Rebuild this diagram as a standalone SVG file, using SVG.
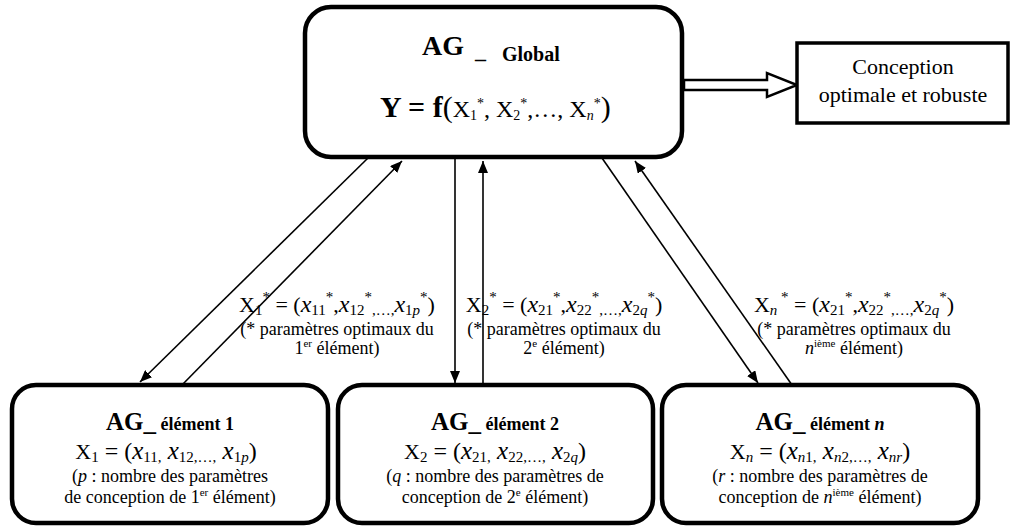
<svg xmlns="http://www.w3.org/2000/svg" width="1011" height="528" viewBox="0 0 1011 528" font-family="'Liberation Serif', 'DejaVu Serif', serif">
<style>
  text { font-family: 'Liberation Serif', 'DejaVu Serif', serif; fill: #000; }
  .box { fill: #fff; stroke: #000; stroke-width: 4.5; }
  .rect { fill: #fff; stroke: #000; stroke-width: 3.5; }
  .conn { stroke: #000; stroke-width: 1.6; fill: none; }
  .b { font-weight: bold; }
  .i { font-style: italic; }
  .xv { font-style: italic; font-size: 25px; }
  .xl { font-style: italic; font-size: 24px; }
</style>
<defs>
  <marker id="ah" viewBox="0 0 12 10" refX="12" refY="5" markerWidth="12" markerHeight="10" markerUnits="userSpaceOnUse" orient="auto">
    <path d="M0,0 L12,5 L0,10 z" fill="#000"/>
  </marker>
</defs>
<rect width="1011" height="528" fill="#fff"/>

<g id="connectors">
  <line class="conn" x1="368" y1="158" x2="140" y2="382" marker-end="url(#ah)"/>
  <line class="conn" x1="182" y1="385" x2="402" y2="161" marker-end="url(#ah)"/>
  <line class="conn" x1="455" y1="158" x2="455" y2="383" marker-end="url(#ah)"/>
  <line class="conn" x1="483" y1="385" x2="483" y2="161" marker-end="url(#ah)"/>
  <line class="conn" x1="602" y1="158" x2="758" y2="383" marker-end="url(#ah)"/>
  <line class="conn" x1="792" y1="385" x2="635" y2="161" marker-end="url(#ah)"/>
  <polygon points="684,80 767,80 767,73 797,85 767,97 767,90 684,90" fill="#fff" stroke="#000" stroke-width="2.5" stroke-linejoin="miter"/>
</g>

<g id="global">
  <rect class="box" x="305" y="7" width="377" height="150" rx="26"/>
  <text x="422" y="55" font-size="28" class="b">AG</text>
  <text x="475" y="58" font-size="22" class="b">_</text>
  <text x="502" y="61" font-size="20" class="b">Global</text>
  <text x="380" y="117" font-size="30"><tspan class="b">Y = f</tspan><tspan>(</tspan><tspan font-size="24">X</tspan><tspan font-size="14" dy="3">1</tspan><tspan font-size="14" dy="-12">*</tspan><tspan font-size="24" dy="9">, X</tspan><tspan font-size="14" dy="3">2</tspan><tspan font-size="14" dy="-12">*</tspan><tspan font-size="24" dy="9">,…, X</tspan><tspan font-size="14" dy="3" class="i">n</tspan><tspan font-size="14" dy="-12">*</tspan><tspan dy="9">)</tspan></text>
</g>

<g id="conception">
  <rect class="rect" x="797" y="43" width="211" height="80"/>
  <text x="903" y="74" font-size="22" text-anchor="middle">Conception</text>
  <text x="903" y="102" font-size="22" text-anchor="middle">optimale et robuste</text>
</g>

<g id="label1">
  <text x="337" y="312" font-size="22" text-anchor="middle">X<tspan font-size="15" dy="3">1</tspan><tspan font-size="15" dy="-13">*</tspan><tspan dy="10"> = (</tspan><tspan class="xl">x</tspan><tspan font-size="15" dy="3">11</tspan><tspan font-size="15" dy="-13">*</tspan><tspan dy="10">,</tspan><tspan class="xl">x</tspan><tspan font-size="15" dy="3">12</tspan><tspan font-size="15" dy="-13">*</tspan><tspan font-size="15" dy="13">,…,</tspan><tspan class="xl" dy="-3">x</tspan><tspan font-size="15" dy="3">1<tspan class="i">p</tspan></tspan><tspan font-size="15" dy="-13">*</tspan><tspan dy="10">)</tspan></text>
  <text x="337" y="335" font-size="18" text-anchor="middle">(* paramètres optimaux du</text>
  <text x="337" y="354" font-size="18" text-anchor="middle">1<tspan font-size="11" dy="-7">er</tspan><tspan dy="7"> élément)</tspan></text>
</g>

<g id="label2">
  <text x="564" y="312" font-size="22" text-anchor="middle">X<tspan font-size="15" dy="3">2</tspan><tspan font-size="15" dy="-13">*</tspan><tspan dy="10"> = (</tspan><tspan class="xl">x</tspan><tspan font-size="15" dy="3">21</tspan><tspan font-size="15" dy="-13">*</tspan><tspan dy="10">,</tspan><tspan class="xl">x</tspan><tspan font-size="15" dy="3">22</tspan><tspan font-size="15" dy="-13">*</tspan><tspan font-size="15" dy="13">,…,</tspan><tspan class="xl" dy="-3">x</tspan><tspan font-size="15" dy="3">2<tspan class="i">q</tspan></tspan><tspan font-size="15" dy="-13">*</tspan><tspan dy="10">)</tspan></text>
  <text x="564" y="335" font-size="18" text-anchor="middle">(* paramètres optimaux du</text>
  <text x="564" y="354" font-size="18" text-anchor="middle">2<tspan font-size="11" dy="-7">e</tspan><tspan dy="7"> élément)</tspan></text>
</g>

<g id="labeln">
  <text x="854" y="312" font-size="22" text-anchor="middle">X<tspan font-size="15" dy="3" class="i">n</tspan><tspan font-size="15" dy="-13"> *</tspan><tspan dy="10"> = (</tspan><tspan class="xl">x</tspan><tspan font-size="15" dy="3">21</tspan><tspan font-size="15" dy="-13">*</tspan><tspan dy="10">,</tspan><tspan class="xl">x</tspan><tspan font-size="15" dy="3">22</tspan><tspan font-size="15" dy="-13">*</tspan><tspan font-size="15" dy="13">,…,</tspan><tspan class="xl" dy="-3">x</tspan><tspan font-size="15" dy="3">2<tspan class="i">q</tspan></tspan><tspan font-size="15" dy="-13">*</tspan><tspan dy="10">)</tspan></text>
  <text x="854" y="335" font-size="18" text-anchor="middle">(* paramètres optimaux du</text>
  <text x="854" y="354" font-size="18" text-anchor="middle"><tspan class="i">n</tspan><tspan font-size="11" dy="-7">ième</tspan><tspan dy="7"> élément)</tspan></text>
</g>

<g id="element1">
  <rect class="box" x="12" y="385" width="316" height="138" rx="24"/>
  <text x="170" y="430" text-anchor="middle" class="b"><tspan font-size="25">AG_</tspan><tspan font-size="18"> élément 1</tspan></text>
  <text x="166" y="459" font-size="22" text-anchor="middle">X<tspan font-size="15" dy="3">1</tspan><tspan dy="-3" font-size="24"> = (</tspan><tspan class="xv">x</tspan><tspan font-size="15" dy="3">11,</tspan><tspan class="xv" dy="-3"> x</tspan><tspan font-size="15" dy="3">12,…,</tspan><tspan class="xv" dy="-3"> x</tspan><tspan font-size="15" dy="3">1<tspan class="i">p</tspan></tspan><tspan dy="-3" font-size="24">)</tspan></text>
  <text x="170" y="482" font-size="18" text-anchor="middle">(<tspan class="i">p</tspan> : nombre des paramètres</text>
  <text x="170" y="503" font-size="18" text-anchor="middle">de conception de 1<tspan font-size="11" dy="-7">er</tspan><tspan dy="7"> élément)</tspan></text>
</g>

<g id="element2">
  <rect class="box" x="338" y="385" width="315" height="138" rx="24"/>
  <text x="495" y="430" text-anchor="middle" class="b"><tspan font-size="25">AG_</tspan><tspan font-size="18"> élément 2</tspan></text>
  <text x="495" y="459" font-size="22" text-anchor="middle">X<tspan font-size="15" dy="3">2</tspan><tspan dy="-3" font-size="24"> = (</tspan><tspan class="xv">x</tspan><tspan font-size="15" dy="3">21,</tspan><tspan class="xv" dy="-3"> x</tspan><tspan font-size="15" dy="3">22,…,</tspan><tspan class="xv" dy="-3"> x</tspan><tspan font-size="15" dy="3">2<tspan class="i">q</tspan></tspan><tspan dy="-3" font-size="24">)</tspan></text>
  <text x="495" y="482" font-size="18" text-anchor="middle">(<tspan class="i">q</tspan> : nombre des paramètres de</text>
  <text x="495" y="503" font-size="18" text-anchor="middle">conception de 2<tspan font-size="11" dy="-7">e</tspan><tspan dy="7"> élément)</tspan></text>
</g>

<g id="elementn">
  <rect class="box" x="662" y="385" width="316" height="138" rx="24"/>
  <text x="820" y="430" text-anchor="middle" class="b"><tspan font-size="25">AG_</tspan><tspan font-size="18"> élément </tspan><tspan font-size="18" class="i">n</tspan></text>
  <text x="820" y="459" font-size="22" text-anchor="middle">X<tspan font-size="15" dy="3" class="i">n</tspan><tspan dy="-3" font-size="24"> = (</tspan><tspan class="xv">x</tspan><tspan font-size="15" dy="3"><tspan class="i">n</tspan>1,</tspan><tspan class="xv" dy="-3"> x</tspan><tspan font-size="15" dy="3"><tspan class="i">n</tspan>2,…,</tspan><tspan class="xv" dy="-3"> x</tspan><tspan font-size="15" dy="3" class="i">nr</tspan><tspan dy="-3" font-size="24">)</tspan></text>
  <text x="820" y="482" font-size="18" text-anchor="middle">(<tspan class="i">r</tspan> : nombre des paramètres de</text>
  <text x="820" y="503" font-size="18" text-anchor="middle">conception de <tspan class="i">n</tspan><tspan font-size="11" dy="-7">ième</tspan><tspan dy="7"> élément)</tspan></text>
</g>
</svg>
